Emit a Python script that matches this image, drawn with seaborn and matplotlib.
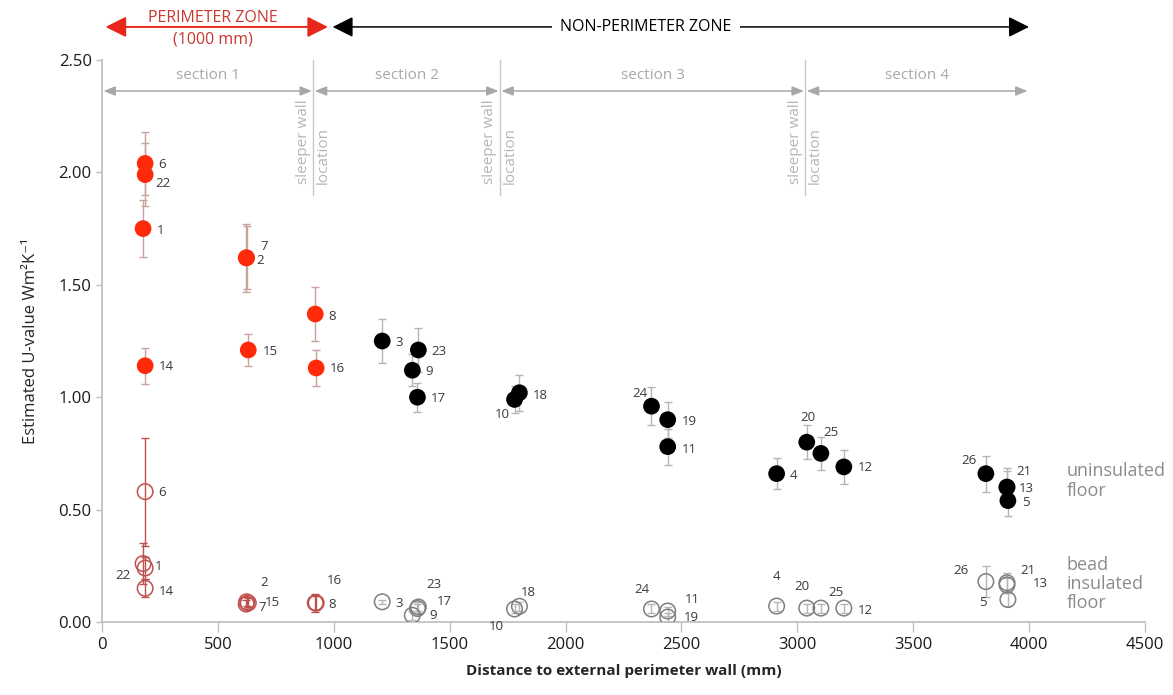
import numpy as np
import pandas as pd
import matplotlib
matplotlib.use('Agg')
import matplotlib.pyplot as plt
import seaborn as sns

# ==============================================================================
# DATA
# ==============================================================================
sensors = [6, 22, 1, 14, 7, 2, 15, 8, 16, 3, 23, 9, 17, 10, 18, 24, 19, 11, 4, 20, 25, 12, 26, 21, 13, 5]
distance_mm = [186, 186, 177, 186, 622, 624, 631, 920, 924, 1209, 1365, 1339, 1361, 1780, 1801,
               2371, 2441, 2441, 2911, 3041, 3102, 3201, 3814, 3905, 3905, 3909]
u_uninsulated = [2.04, 1.99, 1.75, 1.14, 1.62, 1.62, 1.21, 1.37, 1.13, 1.25, 1.21, 1.12, 1.00, 0.99, 1.02,
                 0.96, 0.90, 0.78, 0.66, 0.80, 0.75, 0.69, 0.66, 0.60, 0.60, 0.54]
err_uninsulated = [0.14, 0.14, 0.125, 0.08, 0.15, 0.14, 0.07, 0.12, 0.08, 0.10, 0.10, 0.07, 0.065, 0.06, 0.08,
                   0.085, 0.08, 0.08, 0.07, 0.075, 0.075, 0.075, 0.08, 0.085, 0.07, 0.07]
u_bead = [0.58, 0.24, 0.26, 0.15, 0.08, 0.09, 0.085, 0.085, 0.085, 0.09, 0.067, 0.03, 0.06, 0.058, 0.07,
          0.058, 0.022, 0.049, 0.071, 0.062, 0.062, 0.062, 0.18, 0.175, 0.165, 0.10]
err_bead = [0.24, 0.05, 0.09, 0.04, 0.02, 0.02, 0.02, 0.04, 0.03, 0.01, 0.02, 0.02, 0.02, 0.02, 0.02,
            0.02, 0.02, 0.02, 0.02, 0.02, 0.02, 0.02, 0.07, 0.045, 0.03, 0.03]

section_bounds = [0, 912, 1717, 3035, 4000]
section_names = ['section 1', 'section 2', 'section 3', 'section 4']
x_ticks = [0, 500, 1000, 1500, 2000, 2500, 3000, 3500, 4000, 4500]
y_ticks = [0.0, 0.5, 1.0, 1.5, 2.0, 2.5]

# label offsets in pixels (dx right, dy down) -- styling only
lab_off_unins = {6: (17, 1), 22: (18, 9), 1: (17, 2), 14: (21, 1), 7: (18, -11), 2: (13, 3), 15: (22, 2),
                 8: (17, 2), 16: (21, 1), 3: (17, 1), 23: (21, 2), 9: (17, 1), 17: (21, 1), 10: (-12, 15),
                 18: (21, 3), 24: (-12, -13), 19: (22, 2), 11: (22, 3), 4: (17, 2), 20: (1, -25),
                 25: (10, -21), 12: (22, 1), 26: (-17, -13), 21: (17, -16), 13: (19, 1), 5: (18, 2)}
lab_off_bead = {6: (17, 1), 22: (-22, 7), 1: (15, 3), 14: (21, 3), 7: (16, 3), 2: (17, -19), 15: (24, 0),
                8: (17, 2), 16: (18, -22), 3: (17, 2), 23: (16, -22), 17: (27, -7), 9: (21, 0),
                10: (-18, 18), 18: (9, -14), 24: (-10, -19), 19: (24, 0), 11: (25, -12), 4: (0, -30),
                20: (-5, -22), 25: (15, -16), 12: (22, 2), 26: (-25, -11), 21: (21, -12), 13: (33, -1),
                5: (-25, 3)}

RED = '#ff2a0a'
RED_OPEN = '#c0504d'
RED_ERR = '#c9a19d'
GREY_OPEN = '#7f7f7f'
GREY_ERR = '#b5b5b5'
LIGHT = '#a8a8a8'

# ==============================================================================
# PLOT
# ==============================================================================
sns.set_theme(style='white')
plt.rcParams['font.family'] = ['Open Sans', 'DejaVu Sans']

df = pd.DataFrame({'sensor': sensors, 'distance': distance_mm,
                   'u_unins': u_uninsulated, 'err_unins': err_uninsulated,
                   'u_bead': u_bead, 'err_bead': err_bead})
df['perimeter'] = df['distance'] < 1000

fig = plt.figure(figsize=(11.73, 6.95), dpi=100)
ax = fig.add_axes([0.087, 0.105, 0.889, 0.8087])

for per, sub in df.groupby('perimeter'):
    ecol_f = RED_ERR if per else GREY_ERR
    ax.errorbar(sub['distance'], sub['u_unins'], yerr=sub['err_unins'], fmt='none',
                ecolor=ecol_f, elinewidth=1, capsize=3, zorder=1)
    ax.errorbar(sub['distance'], sub['u_bead'], yerr=sub['err_bead'], fmt='none',
                ecolor=RED_OPEN if per else GREY_ERR, elinewidth=1, capsize=3, zorder=1)
    sns.scatterplot(data=sub, x='distance', y='u_unins', color=RED if per else 'black',
                    s=145, edgecolor='none', ax=ax, zorder=3, legend=False)
    sns.scatterplot(data=sub, x='distance', y='u_bead', facecolors='none',
                    edgecolors=RED_OPEN if per else GREY_OPEN, linewidth=1.1,
                    s=125, ax=ax, zorder=3, legend=False)

for _, r in df.iterrows():
    dx, dy = lab_off_unins[r['sensor']]
    ax.annotate(str(int(r['sensor'])), (r['distance'], r['u_unins']), xytext=(dx, -dy),
                textcoords='offset pixels', ha='center', va='center', fontsize=9.5,
                color='#3a3a3a', annotation_clip=False)
    dx, dy = lab_off_bead[r['sensor']]
    ax.annotate(str(int(r['sensor'])), (r['distance'], r['u_bead']), xytext=(dx, -dy),
                textcoords='offset pixels', ha='center', va='center', fontsize=9.5,
                color='#3a3a3a', annotation_clip=False)

ax.set_xlim(0, 4500)
ax.set_ylim(0, 2.5)
ax.set_xticks(x_ticks)
ax.set_yticks(y_ticks)
ax.set_yticklabels([f'{v:.2f}' for v in y_ticks])
ax.tick_params(axis='both', labelsize=12, colors='#bfbfbf', labelcolor='#1a1a1a')
ax.tick_params(axis='x', length=7, width=1, direction='out', bottom=True)
ax.tick_params(axis='y', length=4, width=1, direction='out', left=True)
for side in ['top', 'right']:
    ax.spines[side].set_visible(False)
for side in ['left', 'bottom']:
    ax.spines[side].set_color('#bfbfbf')
ax.set_xlabel('Distance to external perimeter wall (mm)', fontsize=11, fontweight='bold', labelpad=8)
ax.set_ylabel('Estimated U-value Wm²K⁻¹', fontsize=12, labelpad=14)

# --- section arrows and sleeper wall markers ---
for i, name in enumerate(section_names):
    a, b = section_bounds[i], section_bounds[i + 1]
    ax.annotate('', xy=(a + 6, 2.362), xytext=(b - 6, 2.362),
                arrowprops=dict(arrowstyle='<|-|>,head_length=0.5,head_width=0.2', color=LIGHT,
                                lw=1.1, mutation_scale=14, shrinkA=0, shrinkB=0),
                annotation_clip=False)
    ax.text((a + b) / 2, 2.43, name, ha='center', va='center', fontsize=11, color=LIGHT)
for xb in section_bounds[1:4]:
    ax.plot([xb, xb], [2.5, 1.9], color='#c8c8c8', lw=1, zorder=0)
    ax.text(xb - 12, 1.95, 'sleeper wall', rotation=90, ha='right', va='bottom',
            fontsize=11, color='#b5b5b5')
    ax.text(xb + 10, 1.95, 'location', rotation=90, ha='left', va='bottom',
            fontsize=11, color='#b5b5b5')

# --- zone arrows on top ---
ax.annotate('', xy=(15, 2.647), xytext=(975, 2.647),
            arrowprops=dict(arrowstyle='<|-|>,head_length=0.7,head_width=0.35', color='#e8261c',
                            lw=1.4, mutation_scale=18, shrinkA=0, shrinkB=0),
            annotation_clip=False)
ax.text(480, 2.688, 'PERIMETER ZONE', ha='center', va='center', fontsize=11.5, color='#c9382f')
ax.text(480, 2.593, '(1000 mm)', ha='center', va='center', fontsize=11.5, color='#c9382f')
ax.annotate('', xy=(995, 2.647), xytext=(4000, 2.647),
            arrowprops=dict(arrowstyle='<|-|>,head_length=0.7,head_width=0.35', color='black',
                            lw=1.1, mutation_scale=18, shrinkA=0, shrinkB=0),
            annotation_clip=False)
ax.text(2346, 2.647, 'NON-PERIMETER ZONE', ha='center', va='center', fontsize=11.5, color='black',
        bbox=dict(facecolor='white', edgecolor='none', pad=6))

# --- floor type labels ---
ax.text(4164, 0.627, 'uninsulated\nfloor', ha='left', va='center', fontsize=13,
        color='#8c8c8c', linespacing=1.1)
ax.text(4164, 0.169, 'bead\ninsulated\nfloor', ha='left', va='center', fontsize=13,
        color='#8c8c8c', linespacing=1.1)

fig.savefig('out.png', dpi=100)
